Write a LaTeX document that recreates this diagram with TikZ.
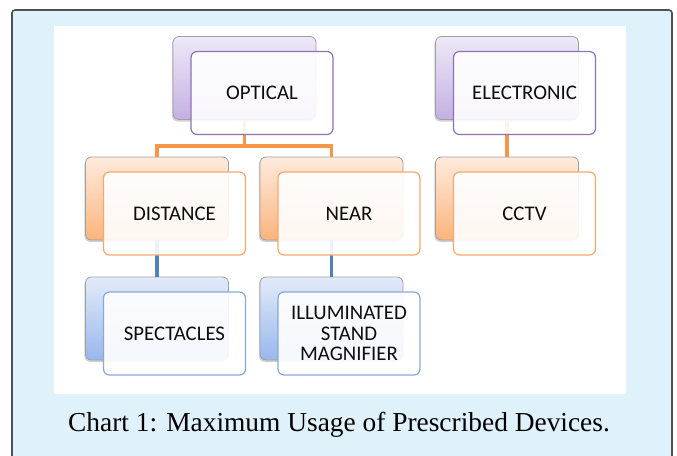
\documentclass[tikz,border=0pt]{standalone}
\usepackage{fontspec}
\setmainfont{Liberation Serif}
\newfontfamily\boxfont{Carlito}
\usetikzlibrary{shadows}

\definecolor{panelblue}{HTML}{DFF1FB}
\definecolor{framegray}{HTML}{505050}
\definecolor{purpletop}{HTML}{EEE9F7}
\definecolor{purplebot}{HTML}{C4B0E2}
\definecolor{purpleline}{HTML}{8E72B8}
\definecolor{orangetop}{HTML}{FEEBDD}
\definecolor{orangebot}{HTML}{FBB47C}
\definecolor{orangeline}{HTML}{F9A86C}
\definecolor{linkorange}{HTML}{F79646}
\definecolor{bluetop}{HTML}{E3EBF9}
\definecolor{bluebot}{HTML}{98B7EC}
\definecolor{blueline}{HTML}{8AA8D8}
\definecolor{linkblue}{HTML}{4F81BD}

\tikzset{
  backbox/.style={rounded corners=6pt, minimum width=143pt, minimum height=83pt,
    draw=gray!75, line width=0.8pt,
    drop shadow={shadow xshift=-1.2pt, shadow yshift=-2pt, opacity=0.35}},
  frontbox/.style={rounded corners=6pt, minimum width=142pt, minimum height=83pt,
    line width=1.2pt, fill=white, fill opacity=0.9, text opacity=1,
    text=black!95, align=center, font=\boxfont\fontsize{20.8}{20.5}\selectfont},
  purpleback/.style={backbox, top color=purpletop, bottom color=purplebot},
  orangeback/.style={backbox, top color=orangetop, bottom color=orangebot},
  blueback/.style={backbox, top color=bluetop, bottom color=bluebot},
  purplefront/.style={frontbox, draw=purpleline},
  orangefront/.style={frontbox, draw=orangeline},
  bluefront/.style={frontbox, draw=blueline},
  linkline/.style={line width=3.2pt},
  front shift/.style={xshift=17.5pt, yshift=-15pt}
}

\begin{document}
\begin{tikzpicture}[x=1pt, y=-1pt]
  \useasboundingbox (0,0) rectangle (677,455);
  % frame and panel
  \draw[fill=panelblue, draw=framegray, line width=1.6pt, rounded corners=3pt] (12,10) rectangle (672,480);
  \fill[white] (54,26) rectangle (626,394);

  % back boxes
  \node[purpleback] (optb) at (244.5,78) {};
  \node[purpleback] (elecb) at (507,78) {};
  \node[orangeback] (distb) at (157,198.5) {};
  \node[orangeback] (nearb) at (331.5,198.5) {};
  \node[orangeback] (cctvb) at (507,198.5) {};
  \node[blueback] (specb) at (157,318.5) {};
  \node[blueback] (illb) at (331.5,318.5) {};

  % connectors
  \coordinate (optj) at (244.5,146);
  \draw[linkline, linkorange] (optb.south) -- (optj) -| (distb.north);
  \draw[linkline, linkorange] (optj) -| (nearb.north);
  \draw[linkline, linkorange] (elecb.south) -- (cctvb.north);
  \draw[linkline, linkblue] (distb.south) -- (specb.north);
  \draw[linkline, linkblue] (nearb.south) -- (illb.north);

  % front boxes
  \node[purplefront] (optf) at ([front shift]optb.center) {OPTICAL};
  \node[purplefront] (elecf) at ([front shift]elecb.center) {ELECTRONIC};
  \node[orangefront] (distf) at ([front shift]distb.center) {DISTANCE};
  \node[orangefront] (nearf) at ([front shift]nearb.center) {NEAR};
  \node[orangefront] (cctvf) at ([front shift]cctvb.center) {CCTV};
  \node[bluefront] (specf) at ([front shift]specb.center) {SPECTACLES};
  \node[bluefront] (illf) at ([front shift]illb.center) {ILLUMINATED\\STAND\\MAGNIFIER};

  % caption
  \node[font=\fontsize{27.4}{32}\selectfont] (caption) at (339,425) {Chart 1: Maximum Usage of Prescribed Devices.};
\end{tikzpicture}
\end{document}
